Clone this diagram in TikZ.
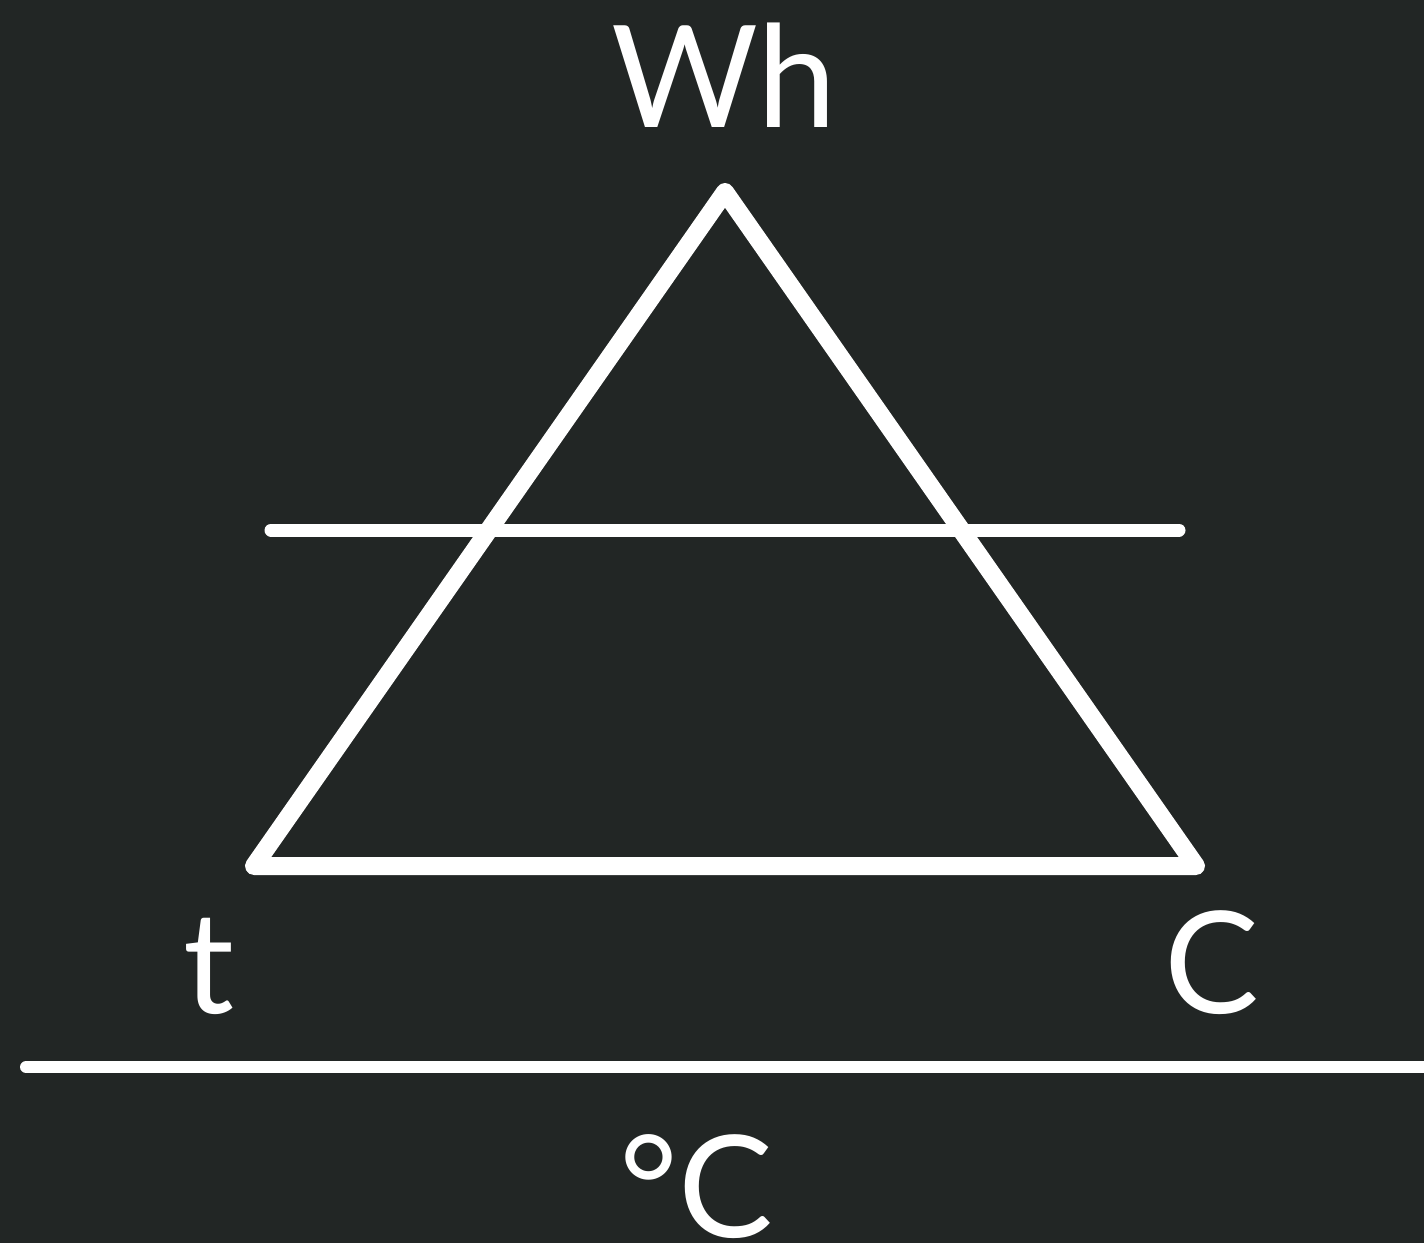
\documentclass[tikz,border=0pt]{standalone}
\usepackage{fontspec}
\setmainfont{Lato}
\definecolor{bg}{HTML}{222625}
\begin{document}
\begin{tikzpicture}[x=1pt,y=-1pt,
  stroke/.style={draw=white,line cap=round,line join=round},
  lbl/.style={text=white,anchor=base,inner sep=0pt,font=\fontsize{142}{150}\selectfont}]
\fill[bg] (0,0) rectangle (1424,1243);
\useasboundingbox (0,0) rectangle (1424,1243);
\coordinate (apex) at (725,192);
\coordinate (bl) at (254,866);
\coordinate (br) at (1196,866);
\coordinate (ml) at (271,530);
\coordinate (mr) at (1179,530);
\coordinate (fl) at (26,1067);
\coordinate (fr) at (1440,1067);
\draw[stroke,line width=18] (apex) -- (br) -- (bl) -- cycle;
\draw[stroke,line width=13] (ml) -- (mr);
\draw[stroke,line width=12] (fl) -- (fr);
\node[lbl] (wh) at (724,127) {Wh};
\node[lbl] (t) at (209,1013) {t};
\node[lbl] (c) at (1212,1013) {C};
\node[lbl] (degc) at (696,1237) {°C};
\end{tikzpicture}
\end{document}
